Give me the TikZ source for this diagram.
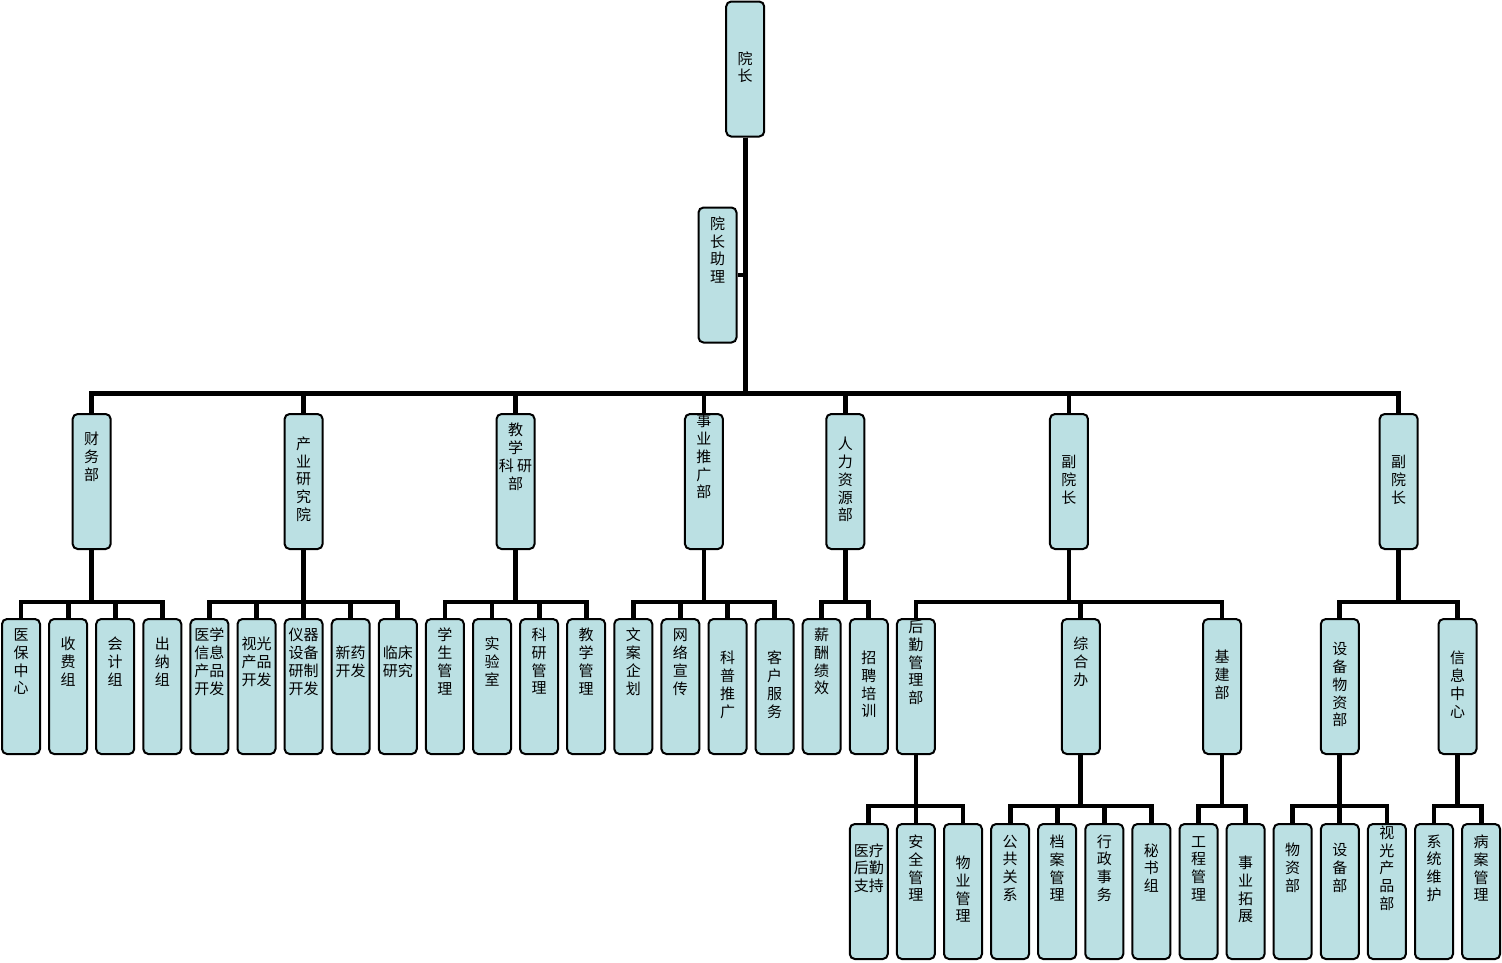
\documentclass[tikz,border=0pt]{standalone}
\usepackage{fontspec}
\newfontfamily\cjk{Noto Sans CJK SC}
\usetikzlibrary{positioning,calc}
\definecolor{boxfill}{RGB}{187,224,227}
\newcommand{\vt}[2][0]{\smash{\raisebox{\dimexpr #1pt-3.75pt\relax}{\begin{tabular}{@{}c@{}}#2\end{tabular}}}}
\tikzset{
    unit/.style={
        rectangle,
        rounded corners=5pt,
        draw=black,
        line width=2pt,
        fill=boxfill,
        minimum width=38pt,
        minimum height=135pt,
        inner sep=0pt,
        font=\cjk\fontsize{15}{17.5}\selectfont,
    },
    link/.style={
        draw,
        line width=4.8pt,
        to path={-- ++(0,#1) -| (\tikztotarget) \tikztonodes},
    },
    stub/.style={
        draw,
        line width=4.8pt,
    },
    node distance=47.1pt,
}

\begin{document}
\begin{tikzpicture}[x=1pt,y=-1pt]
\useasboundingbox (0,0) rectangle (1502,962);
% top
\node [unit] (yz) at (745.2,69) {\vt{院\\长}};
\node [unit] (yzzl) at (717.5,275) {\vt[23]{院\\长\\助\\理}};
% departments
\node [unit] (cwb) at (91.65,481.5) {\vt[23]{财\\务\\部}};
\node [unit] (cyy) at (303.6,481.5) {\vt{产\\业\\研\\究\\院}};
\node [unit] (jxk) at (515.55,481.5) {\vt[23]{教\\学\\科~研\\部}};
\node [unit] (sytg) at (703.95,481.5) {\vt[23]{事\\业\\推\\广\\部}};
\node [unit] (rlzy) at (845.25,481.5) {\vt{人\\力\\资\\源\\部}};
\node [unit] (fyz1) at (1068.98,481.5) {\vt{副\\院\\长}};
\node [unit] (fyz2) at (1398.68,481.5) {\vt{副\\院\\长}};
% third row
\node [unit] (ybzx) at (21,686.5) {\vt[23]{医\\保\\中\\心}};
\node [unit,right of=ybzx] (sfz) {\vt[23]{收\\费\\组}};
\node [unit,right of=sfz] (kjz) {\vt[23]{会\\计\\组}};
\node [unit,right of=kjz] (cnz) {\vt[23]{出\\纳\\组}};
\node [unit,right of=cnz] (yxxx) {\vt[23]{医学\\信息\\产品\\开发}};
\node [unit,right of=yxxx] (sgcp) {\vt[23]{视光\\产品\\开发}};
\node [unit,right of=sgcp] (yqsb) {\vt[23]{仪器\\设备\\研制\\开发}};
\node [unit,right of=yqsb] (xykf) {\vt[23]{新药\\开发}};
\node [unit,right of=xykf] (lcyj) {\vt[23]{临床\\研究}};
\node [unit,right of=lcyj] (xsgl) {\vt[23]{学\\生\\管\\理}};
\node [unit,right of=xsgl] (sys) {\vt[23]{实\\验\\室}};
\node [unit,right of=sys] (kygl) {\vt[23]{科\\研\\管\\理}};
\node [unit,right of=kygl] (jxgl) {\vt[23]{教\\学\\管\\理}};
\node [unit,right of=jxgl] (wach) {\vt[23]{文\\案\\企\\划}};
\node [unit,right of=wach] (wlxc) {\vt[23]{网\\络\\宣\\传}};
\node [unit,right of=wlxc] (kptg) {\vt{科\\普\\推\\广}};
\node [unit,right of=kptg] (khfw) {\vt{客\\户\\服\\务}};
\node [unit,right of=khfw] (xcjx) {\vt[23]{薪\\酬\\绩\\效}};
\node [unit,right of=xcjx] (zppx) {\vt{招\\聘\\培\\训}};
\node [unit,right of=zppx] (hqgl) {\vt[22]{后\\勤\\管\\理\\部}};
\node [unit] (zhb) at (1080.75,686.5) {\vt[23]{综\\合\\办}};
\node [unit] (jjb) at (1222.05,686.5) {\vt[9.5]{基\\建\\部}};
\node [unit] (sbwz) at (1339.8,686.5) {\vt{设\\备\\物\\资\\部}};
\node [unit] (xxzx) at (1457.55,686.5) {\vt{信\\息\\中\\心}};
% fourth row
\node [unit] (ylhq) at (868.8,891.5) {\vt[21.5]{医疗\\后勤\\支持}};
\node [unit,right of=ylhq] (aqgl) {\vt[21.5]{安\\全\\管\\理}};
\node [unit,right of=aqgl] (wygl) {\vt{物\\业\\管\\理}};
\node [unit,right of=wygl] (gggx) {\vt[21.5]{公\\共\\关\\系}};
\node [unit,right of=gggx] (dagl) {\vt[21.5]{档\\案\\管\\理}};
\node [unit,right of=dagl] (xzsw) {\vt[21.5]{行\\政\\事\\务}};
\node [unit,right of=xzsw] (msz) {\vt[21.5]{秘\\书\\组}};
\node [unit,right of=msz] (gcgl) {\vt[21.5]{工\\程\\管\\理}};
\node [unit,right of=gcgl] (sytz) {\vt{事\\业\\拓\\展}};
\node [unit,right of=sytz] (wzb) {\vt[21.5]{物\\资\\部}};
\node [unit,right of=wzb] (sbb) {\vt[21.5]{设\\备\\部}};
\node [unit,right of=sbb] (sgcpb) {\vt[21.5]{视\\光\\产\\品\\部}};
\node [unit,right of=sgcpb] (xtwh) {\vt[21.5]{系\\统\\维\\护}};
\node [unit,right of=xtwh] (bagl) {\vt[21.5]{病\\案\\管\\理}};
% connectors
\draw [stub] (yzzl.east) -- (yzzl.east -| yz.south);
\draw (yz.south) edge[link=256] (cwb.north);
\draw (yz.south) edge[link=256] (cyy.north);
\draw (yz.south) edge[link=256] (jxk.north);
\draw (yz.south) edge[link=256] (sytg.north);
\draw (yz.south) edge[link=256] (rlzy.north);
\draw (yz.south) edge[link=256] (fyz1.north);
\draw (yz.south) edge[link=256] (fyz2.north);
\draw (cwb.south) edge[link=52] (ybzx.north);
\draw (cwb.south) edge[link=52] (sfz.north);
\draw (cwb.south) edge[link=52] (kjz.north);
\draw (cwb.south) edge[link=52] (cnz.north);
\draw (cyy.south) edge[link=52] (yxxx.north);
\draw (cyy.south) edge[link=52] (sgcp.north);
\draw (cyy.south) edge[link=52] (yqsb.north);
\draw (cyy.south) edge[link=52] (xykf.north);
\draw (cyy.south) edge[link=52] (lcyj.north);
\draw (jxk.south) edge[link=52] (xsgl.north);
\draw (jxk.south) edge[link=52] (sys.north);
\draw (jxk.south) edge[link=52] (kygl.north);
\draw (jxk.south) edge[link=52] (jxgl.north);
\draw (sytg.south) edge[link=52] (wach.north);
\draw (sytg.south) edge[link=52] (wlxc.north);
\draw (sytg.south) edge[link=52] (kptg.north);
\draw (sytg.south) edge[link=52] (khfw.north);
\draw (rlzy.south) edge[link=52] (xcjx.north);
\draw (rlzy.south) edge[link=52] (zppx.north);
\draw (fyz1.south) edge[link=52] (hqgl.north);
\draw (fyz1.south) edge[link=52] (zhb.north);
\draw (fyz1.south) edge[link=52] (jjb.north);
\draw (fyz2.south) edge[link=52] (sbwz.north);
\draw (fyz2.south) edge[link=52] (xxzx.north);
\draw (hqgl.south) edge[link=51] (ylhq.north);
\draw (hqgl.south) edge[link=51] (aqgl.north);
\draw (hqgl.south) edge[link=51] (wygl.north);
\draw (zhb.south) edge[link=51] (gggx.north);
\draw (zhb.south) edge[link=51] (dagl.north);
\draw (zhb.south) edge[link=51] (xzsw.north);
\draw (zhb.south) edge[link=51] (msz.north);
\draw (jjb.south) edge[link=51] (gcgl.north);
\draw (jjb.south) edge[link=51] (sytz.north);
\draw (sbwz.south) edge[link=51] (wzb.north);
\draw (sbwz.south) edge[link=51] (sbb.north);
\draw (sbwz.south) edge[link=51] (sgcpb.north);
\draw (xxzx.south) edge[link=51] (xtwh.north);
\draw (xxzx.south) edge[link=51] (bagl.north);
\end{tikzpicture}
\end{document}
